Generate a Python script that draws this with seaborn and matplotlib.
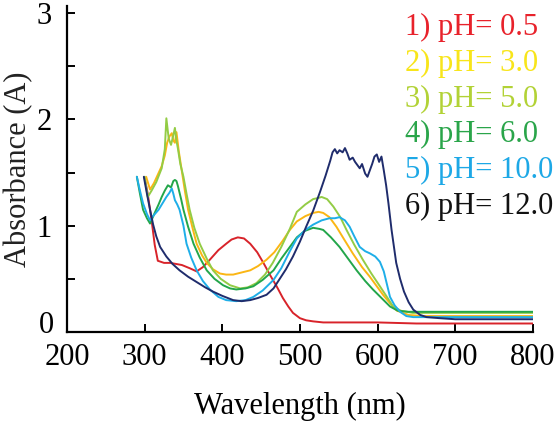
import numpy as np
import pandas as pd
import matplotlib
matplotlib.use('Agg')
import matplotlib.pyplot as plt
import seaborn as sns
from matplotlib.ticker import MultipleLocator, FuncFormatter

# spectra (wavelength nm, absorbance A)
nm_1 = [300, 304, 309, 313, 317, 325, 333, 348, 358, 367, 375, 384, 395, 405, 412, 420,
        428, 436, 445, 453, 462, 470, 478, 485, 491, 500, 508, 517, 530, 560, 600, 650, 700, 750, 800]
abs_1 = [1.45, 1.30, 1.05, 0.82, 0.67, 0.65, 0.65, 0.63, 0.60, 0.57, 0.61, 0.68, 0.77, 0.83, 0.87, 0.89,
         0.88, 0.83, 0.75, 0.65, 0.53, 0.43, 0.32, 0.24, 0.18, 0.13, 0.11, 0.10, 0.09, 0.09, 0.09, 0.08, 0.08, 0.08, 0.08]

nm_2 = [302, 307, 312, 317, 322, 326, 329, 332, 335, 337, 339, 341, 344, 348, 352, 356, 362, 367, 374, 380,
        388, 397, 405, 414, 425, 436, 446, 457, 467, 478, 487, 496, 507, 517, 524, 530, 538, 547, 557, 568,
        580, 590, 598, 607, 616, 625, 640, 660, 700, 750, 800]
abs_2 = [1.46, 1.34, 1.40, 1.48, 1.56, 1.66, 1.78, 1.84, 1.87, 1.80, 1.78, 1.88, 1.70, 1.51, 1.32, 1.15, 0.97, 0.83, 0.72, 0.65,
         0.59, 0.55, 0.54, 0.54, 0.56, 0.58, 0.62, 0.68, 0.75, 0.86, 0.96, 1.04, 1.09, 1.12, 1.13, 1.12, 1.08, 0.99, 0.87, 0.74,
         0.61, 0.52, 0.44, 0.35, 0.27, 0.20, 0.16, 0.15, 0.15, 0.15, 0.15]

nm_3 = [300, 304, 309, 315, 322, 326, 328, 331, 334, 337, 339, 341, 343, 346, 350, 354, 358, 364, 371, 380,
        388, 398, 410, 423, 433, 444, 455, 465, 476, 487, 496, 507, 517, 523, 528, 535, 543, 552, 560, 570,
        581, 592, 603, 612, 620, 630, 645, 670, 700, 750, 800]
abs_3 = [1.46, 1.27, 1.33, 1.41, 1.54, 1.72, 2.01, 1.82, 1.76, 1.85, 1.92, 1.80, 1.72, 1.58, 1.46, 1.30, 1.15, 0.98, 0.83, 0.69,
         0.58, 0.50, 0.44, 0.41, 0.42, 0.46, 0.54, 0.65, 0.80, 0.97, 1.13, 1.20, 1.25, 1.26, 1.27, 1.25, 1.18, 1.08, 0.96, 0.82,
         0.68, 0.55, 0.43, 0.33, 0.24, 0.20, 0.18, 0.18, 0.18, 0.18, 0.18]

nm_4 = [290, 294, 298, 303, 307, 313, 318, 322, 326, 330, 334, 337, 339, 341, 343, 347, 350, 356, 363, 371,
        380, 390, 401, 410, 418, 430, 440, 452, 466, 476, 487, 496, 506, 517, 525, 530, 540, 551, 562, 573,
        584, 594, 605, 616, 626, 640, 660, 700, 750, 800]
abs_4 = [1.46, 1.30, 1.15, 1.07, 1.02, 1.12, 1.20, 1.27, 1.33, 1.38, 1.36, 1.42, 1.43, 1.42, 1.37, 1.25, 1.15, 0.99, 0.83, 0.70,
         0.58, 0.50, 0.44, 0.41, 0.40, 0.41, 0.43, 0.49, 0.58, 0.69, 0.80, 0.89, 0.95, 0.98, 0.97, 0.96, 0.89, 0.80, 0.69, 0.58,
         0.48, 0.40, 0.32, 0.24, 0.20, 0.19, 0.19, 0.19, 0.19, 0.19]

nm_5 = [290, 294, 298, 303, 307, 312, 318, 323, 328, 332, 335, 337, 339, 342, 345, 350, 354, 360, 367, 375,
        384, 395, 405, 418, 430, 440, 452, 466, 476, 487, 496, 507, 517, 528, 538, 545, 551, 558, 564, 570,
        577, 584, 590, 597, 603, 608, 612, 616, 622, 629, 637, 646, 670, 700, 750, 800]
abs_5 = [1.46, 1.33, 1.21, 1.11, 1.05, 1.10, 1.15, 1.21, 1.27, 1.31, 1.35, 1.30, 1.24, 1.20, 1.15, 1.00, 0.83, 0.70, 0.58, 0.48,
         0.40, 0.33, 0.30, 0.29, 0.30, 0.33, 0.39, 0.49, 0.60, 0.76, 0.88, 0.96, 1.01, 1.05, 1.07, 1.07, 1.08, 1.05, 0.99, 0.90,
         0.80, 0.76, 0.74, 0.71, 0.66, 0.57, 0.45, 0.33, 0.25, 0.19, 0.15, 0.14, 0.14, 0.14, 0.14, 0.14]

nm_6 = [299, 303, 307, 311, 315, 320, 328, 336, 345, 356, 367, 378, 388, 400, 414, 425, 436, 446, 457, 466,
        474, 482, 491, 500, 508, 517, 526, 533, 539, 542, 545, 548, 551, 555, 558, 561, 564, 568, 571, 574,
        577, 580, 584, 587, 590, 593, 596, 599, 602, 605, 608, 611, 614, 618, 624, 629, 634, 640, 646, 655,
        663, 680, 700, 750, 800]
abs_6 = [1.46, 1.30, 1.15, 1.01, 0.90, 0.80, 0.71, 0.64, 0.58, 0.52, 0.47, 0.42, 0.38, 0.34, 0.30, 0.29, 0.30, 0.32, 0.35, 0.41,
         0.50, 0.59, 0.71, 0.85, 0.99, 1.14, 1.32, 1.47, 1.61, 1.69, 1.72, 1.68, 1.71, 1.69, 1.73, 1.68, 1.62, 1.64, 1.60, 1.57,
         1.54, 1.58, 1.49, 1.46, 1.52, 1.58, 1.65, 1.67, 1.60, 1.65, 1.52, 1.38, 1.21, 0.96, 0.65, 0.50, 0.38, 0.28, 0.21, 0.16,
         0.14, 0.13, 0.12, 0.12, 0.12]

labels = ['1) pH= 0.5', '2) pH= 3.0', '3) pH= 5.0', '4) pH= 6.0', '5) pH= 10.0', '6) pH= 12.0']
line_colors = ['#d8232a', '#fbb614', '#93cc45', '#23a64a', '#1eaee8', '#1f2c6c']
text_colors = ['#e8222b', '#f8e51a', '#b2d236', '#2aa54a', '#1da8e6', '#111111']

frames = []
for lab, x, y in zip(labels, [nm_1, nm_2, nm_3, nm_4, nm_5, nm_6],
                     [abs_1, abs_2, abs_3, abs_4, abs_5, abs_6]):
    frames.append(pd.DataFrame({'Wavelength': x, 'Absorbance': y, 'Sample': lab}))
df = pd.concat(frames, ignore_index=True)

sns.set_style('white')
plt.rcParams['font.family'] = ['Liberation Serif', 'DejaVu Serif']

fig = plt.figure(figsize=(5.58, 4.21), dpi=100)
ax = fig.add_axes([0.120, 0.2114, 0.835, 0.7753])

sns.lineplot(data=df, x='Wavelength', y='Absorbance', hue='Sample',
             palette=line_colors, hue_order=labels, legend=False,
             sort=False, estimator=None, linewidth=1.4, ax=ax)

ax.set_xlim(200, 800)
ax.set_ylim(0, 3.07)
ax.xaxis.set_major_locator(MultipleLocator(100))
ax.yaxis.set_major_locator(MultipleLocator(1))
ax.yaxis.set_minor_locator(MultipleLocator(0.5))
# "0" is drawn separately, a bit above the x axis as in the original
ax.yaxis.set_major_formatter(FuncFormatter(lambda v, p: '' if v == 0 else f'{v:.0f}'))

sns.despine(ax=ax, top=True, right=True)
for s in ['left', 'bottom']:
    ax.spines[s].set_color('black')
    ax.spines[s].set_linewidth(1.6)

ax.tick_params(axis='x', which='major', direction='in', length=6, width=1.4,
               bottom=True, labelsize=22, pad=8, colors='black')
ax.tick_params(axis='y', which='both', direction='in', length=6, width=1.4,
               left=True, labelsize=22, pad=11, colors='black')

ax.annotate('0', xy=(0, 0), xycoords=('axes fraction', 'data'),
            xytext=(-9, 5), textcoords='offset points',
            ha='right', va='center', fontsize=22, color='black')

ax.set_xlabel('Wavelength (nm)', fontsize=22, labelpad=14, color='black')
ax.set_ylabel('Absorbance (A)', fontsize=22, labelpad=2, color='#222222')

for i, (lab, c) in enumerate(zip(labels, text_colors)):
    ax.text(0.725, 0.910 - i * 0.1098, lab, color=c, fontsize=22,
            transform=ax.transAxes, ha='left', va='baseline')

plt.savefig('out.png', dpi=100)
